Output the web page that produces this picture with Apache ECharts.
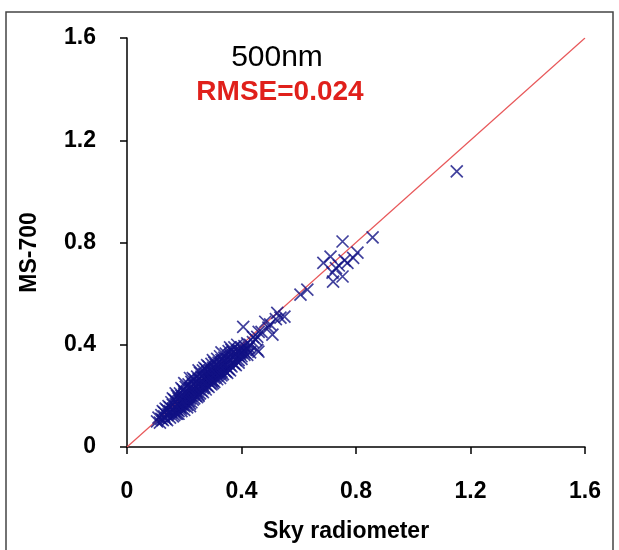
<!DOCTYPE html>
<html>
<head>
<meta charset="utf-8">
<script src="https://cdn.jsdelivr.net/npm/echarts@6/dist/echarts.min.js"></script>
<style>html,body{margin:0;padding:0;background:#fff}#c{width:619px;height:550px}</style>
</head>
<body>
<div id="c"></div>
<script>
var axisTicks = [0, 0.4, 0.8, 1.2, 1.6];
var oneToOneX = [0, 1.6];
var oneToOneY = [0, 1.6];
var titleText = '500nm';
var rmseText = 'RMSE=0.024';
// [Sky radiometer, MS-700]
var scatterPoints = [
[0.105,0.10],[0.11,0.115],[0.115,0.095],[0.12,0.11],[0.12,0.125],[0.125,0.105],[0.13,0.12],[0.13,0.135],[0.135,0.11],[0.14,0.125],
[0.14,0.145],[0.145,0.13],[0.15,0.115],[0.15,0.14],[0.15,0.155],[0.155,0.135],[0.16,0.12],[0.16,0.15],[0.16,0.165],[0.165,0.14],
[0.17,0.13],[0.17,0.155],[0.17,0.18],[0.175,0.165],[0.175,0.145],[0.18,0.14],[0.18,0.17],[0.18,0.19],[0.185,0.155],[0.185,0.18],
[0.19,0.15],[0.19,0.17],[0.19,0.2],[0.195,0.185],[0.195,0.165],[0.2,0.16],[0.2,0.18],[0.2,0.2],[0.2,0.215],[0.205,0.19],
[0.205,0.175],[0.21,0.165],[0.21,0.195],[0.21,0.215],[0.215,0.2],[0.215,0.18],[0.22,0.17],[0.22,0.19],[0.22,0.21],[0.22,0.23],
[0.225,0.2],[0.225,0.22],[0.23,0.185],[0.23,0.205],[0.23,0.225],[0.23,0.245],[0.235,0.21],[0.235,0.23],[0.24,0.2],[0.24,0.22],
[0.24,0.24],[0.24,0.255],[0.245,0.215],[0.245,0.235],[0.25,0.205],[0.25,0.225],[0.25,0.245],[0.25,0.265],[0.255,0.235],[0.255,0.25],
[0.26,0.22],[0.26,0.24],[0.26,0.26],[0.26,0.275],[0.265,0.245],[0.265,0.23],[0.27,0.235],[0.27,0.255],[0.27,0.27],[0.27,0.285],
[0.275,0.26],[0.275,0.245],[0.28,0.24],[0.28,0.26],[0.28,0.275],[0.28,0.295],[0.285,0.265],[0.285,0.28],[0.29,0.25],[0.29,0.27],
[0.29,0.285],[0.29,0.3],[0.295,0.275],[0.295,0.26],[0.3,0.26],[0.3,0.28],[0.3,0.295],[0.3,0.31],[0.305,0.285],[0.305,0.27],
[0.31,0.275],[0.31,0.29],[0.31,0.305],[0.31,0.32],[0.315,0.295],[0.315,0.28],[0.32,0.285],[0.32,0.3],[0.32,0.315],[0.32,0.33],
[0.325,0.305],[0.325,0.29],[0.33,0.295],[0.33,0.31],[0.33,0.325],[0.33,0.34],[0.335,0.315],[0.34,0.3],[0.34,0.32],[0.34,0.335],
[0.34,0.35],[0.345,0.325],[0.35,0.31],[0.35,0.33],[0.35,0.345],[0.355,0.335],[0.36,0.32],[0.36,0.34],[0.36,0.36],[0.365,0.345],
[0.37,0.33],[0.37,0.35],[0.37,0.37],[0.375,0.355],[0.38,0.34],[0.38,0.36],[0.385,0.375],[0.39,0.355],[0.39,0.38],[0.395,0.365],
[0.4,0.37],[0.4,0.39],[0.405,0.38],[0.41,0.36],[0.41,0.395],[0.42,0.385],[0.42,0.405],[0.43,0.4],[0.44,0.41],[0.44,0.43],[0.45,0.42],
[0.17,0.21],[0.2,0.25],[0.22,0.27],[0.25,0.3],[0.28,0.32],[0.3,0.34],[0.33,0.37],[0.36,0.39],[0.25,0.2],[0.3,0.25],
[0.33,0.28],[0.36,0.3],[0.38,0.32],[0.4,0.345],[0.42,0.36],[0.16,0.19],[0.19,0.23],[0.23,0.27],[0.27,0.31],[0.35,0.29],
[0.39,0.33],[0.43,0.37],[0.14,0.105],[0.18,0.13],[0.22,0.16],
[0.125,0.14],[0.135,0.15],[0.145,0.16],[0.155,0.175],[0.165,0.185],[0.175,0.2],[0.185,0.21],[0.195,0.225],[0.205,0.235],[0.215,0.245],
[0.225,0.255],[0.235,0.265],[0.245,0.275],[0.255,0.29],[0.265,0.3],[0.275,0.305],[0.285,0.315],[0.295,0.325],[0.305,0.33],[0.315,0.345],
[0.325,0.355],[0.345,0.365],[0.355,0.375],[0.365,0.38],[0.375,0.39],[0.385,0.4],
[0.165,0.125],[0.175,0.13],[0.19,0.14],[0.2,0.145],[0.21,0.155],[0.225,0.175],[0.235,0.19],[0.245,0.195],[0.255,0.21],[0.265,0.215],
[0.275,0.225],[0.285,0.235],[0.295,0.245],[0.305,0.255],[0.315,0.265],[0.325,0.27],[0.335,0.285],[0.345,0.295],[0.355,0.305],[0.365,0.315],
[0.375,0.325],[0.39,0.34],[0.4,0.355],[0.41,0.37],[0.415,0.38],[0.425,0.39],
[0.406,0.47],[0.455,0.38],[0.455,0.431],[0.459,0.373],[0.483,0.49],[0.494,0.467],[0.508,0.44],[0.525,0.525],[0.536,0.506],[0.55,0.51],
[0.47,0.45],[0.5,0.48],[0.52,0.5],[0.46,0.45],[0.606,0.596],[0.63,0.616],[0.686,0.72],[0.711,0.745],[0.72,0.647],[0.718,0.682],
[0.73,0.7],[0.753,0.667],[0.753,0.804],[0.77,0.72],[0.79,0.74],[0.805,0.76],[0.858,0.82],[1.152,1.078],[0.74,0.71],[0.76,0.73]
];

var chart = echarts.init(document.getElementById('c'), null, {renderer: 'canvas'});
var axisCommon = {
  type: 'value', min: axisTicks[0], max: axisTicks[axisTicks.length - 1], interval: 0.4,
  axisLine: {show: true, onZero: false, lineStyle: {color: '#000', width: 1.5}},
  axisTick: {show: true, inside: false, length: 7, lineStyle: {color: '#000', width: 1.5}},
  splitLine: {show: false},
  axisLabel: {color: '#000', fontFamily: 'Liberation Sans, Arial, sans-serif', fontWeight: 'bold', fontSize: 23}
};
chart.setOption({
  animation: false,
  backgroundColor: '#fff',
  grid: {left: 127, right: 34, top: 38, bottom: 103, containLabel: false},
  title: [
    {text: titleText, left: 272, top: 38, textAlign: 'center',
     textStyle: {color: '#000', fontFamily: 'Liberation Sans, Arial, sans-serif', fontWeight: 'normal', fontSize: 30}},
    {text: rmseText, left: 275, top: 73, textAlign: 'center',
     textStyle: {color: '#e0201b', fontFamily: 'Liberation Sans, Arial, sans-serif', fontWeight: 'bold', fontSize: 28}}
  ],
  xAxis: Object.assign({}, axisCommon, {
    name: 'Sky radiometer', nameLocation: 'middle', nameGap: 73,
    nameTextStyle: {color: '#000', fontFamily: 'Liberation Sans, Arial, sans-serif', fontWeight: 'bold', fontSize: 23, padding: [0, 20, 0, 0]},
    axisLabel: Object.assign({}, axisCommon.axisLabel, {margin: 33})
  }),
  yAxis: Object.assign({}, axisCommon, {
    name: 'MS-700', nameLocation: 'middle', nameGap: 86, nameRotate: 90,
    nameTextStyle: {color: '#000', fontFamily: 'Liberation Sans, Arial, sans-serif', fontWeight: 'bold', fontSize: 23, padding: [0, 20, 0, 0]},
    axisLabel: Object.assign({}, axisCommon.axisLabel, {margin: 31})
  }),
  graphic: [
    {type: 'rect', silent: true, z: 100, shape: {x: 6, y: 12, width: 607, height: 560},
     style: {fill: 'none', stroke: '#444', lineWidth: 1.5}}
  ],
  series: [
    {type: 'line', data: oneToOneX.map(function (v, i) { return [v, oneToOneY[i]]; }),
     symbol: 'none', lineStyle: {color: '#e8585a', width: 1.2}, z: 1},
    {type: 'scatter', data: scatterPoints, z: 2,
     symbol: 'path://M0,0L10,10M10,0L0,10', symbolSize: 12,
     itemStyle: {color: 'rgba(0,0,0,0)', borderColor: '#121285', borderWidth: 1.7}}
  ]
});
</script>
</body>
</html>
